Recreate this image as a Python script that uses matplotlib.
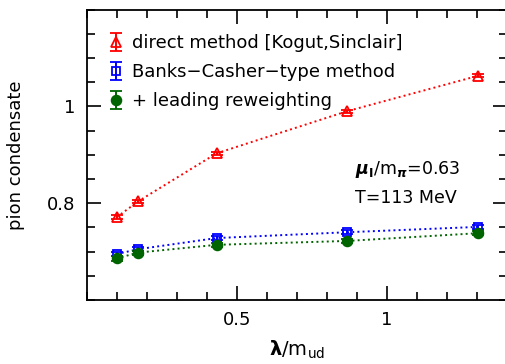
import matplotlib
matplotlib.use("Agg")
import matplotlib.pyplot as plt
from matplotlib.container import ErrorbarContainer
from matplotlib.legend_handler import HandlerErrorbar
from matplotlib.ticker import MultipleLocator, FixedLocator

plt.rcParams['font.family'] = ['DejaVu Sans']
plt.rcParams['mathtext.fontset'] = 'dejavusans'

# lambda / m_ud for the five runs
lam = [0.10, 0.172, 0.433, 0.868, 1.304]

# direct method [Kogut, Sinclair]
direct = [0.771, 0.804, 0.903, 0.990, 1.063]
direct_err = [0.004, 0.003, 0.003, 0.003, 0.003]

# Banks-Casher-type method
banks = [0.695, 0.705, 0.728, 0.740, 0.751]
banks_err = [0.005, 0.004, 0.004, 0.004, 0.004]

# + leading reweighting
rew = [0.686, 0.698, 0.714, 0.722, 0.738]
rew_err = [0.005, 0.004, 0.004, 0.004, 0.004]

labels = ["direct method [Kogut,Sinclair]",
          "Banks\u2212Casher\u2212type method",
          "+ leading reweighting"]

fig = plt.figure(figsize=(5.05, 3.64), dpi=100)
ax = fig.add_axes([0.1717, 0.1758, 0.8316, 0.798])

series = [
    (direct, direct_err, 'red', dict(marker='^', markersize=7, markerfacecolor='none')),
    (banks, banks_err, 'blue', dict(marker='s', markersize=5.5, markerfacecolor='none')),
    (rew, rew_err, '#006400', dict(marker='o', markersize=7)),
]
for (vals, errs, col, mk), lab in zip(series, labels):
    # dotted connecting line, then the points with error bars on top
    ax.plot(lam, vals, linestyle=':', linewidth=1.4, color=col)
    ax.errorbar(lam, vals, yerr=errs, linestyle='none', color=col, capsize=4.5,
                elinewidth=1.4, capthick=1.4, markeredgewidth=1.3, label=lab, **mk)

ax.set_xlim(0, 1.4)
ax.set_ylim(0.6, 1.2)
ax.xaxis.set_major_locator(FixedLocator([0.5, 1.0]))
ax.xaxis.set_minor_locator(MultipleLocator(0.1))
ax.yaxis.set_major_locator(FixedLocator([0.8, 1.0]))
ax.yaxis.set_minor_locator(MultipleLocator(0.05))
ax.set_xticklabels(["0.5", "1"])
ax.set_yticklabels(["0.8", "1"])
ax.tick_params(which='both', direction='in', top=True, right=True, width=1.2,
               labelsize=13, pad=8)
ax.tick_params(which='major', length=10)
ax.tick_params(which='minor', length=6)
for s in ax.spines.values():
    s.set_linewidth(1.3)

ax.set_xlabel(r"$\mathbf{\lambda}$/m$_{\mathrm{ud}}$", fontsize=14, labelpad=7)
ax.set_ylabel("pion condensate", fontsize=13, labelpad=16)

ax.text(0.895, 0.870, r"$\boldsymbol{\mu}_{\mathbf{I}}$/m$_{\boldsymbol{\pi}}$=0.63",
        fontsize=12.5, ha='left', va='center')
ax.text(0.895, 0.810, "T=113 MeV", fontsize=12.5, ha='left', va='center')

leg = ax.legend(loc='upper left', bbox_to_anchor=(0.0376, 0.940), borderaxespad=0,
                frameon=False, fontsize=13, handlelength=0.7,
                handletextpad=0.52, labelspacing=0.61,
                handler_map={ErrorbarContainer: HandlerErrorbar(xerr_size=0.3, yerr_size=0.5)})

fig.savefig("out.png", dpi=100)
